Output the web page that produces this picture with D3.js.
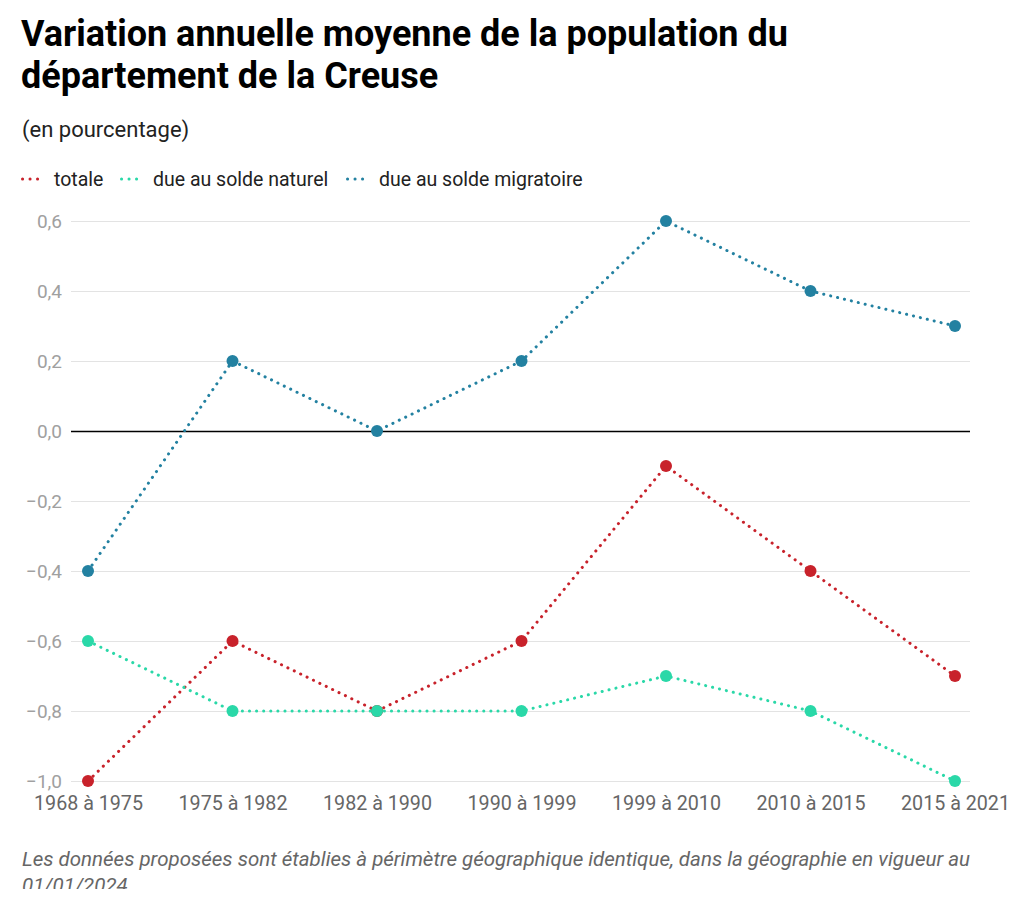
<!DOCTYPE html>
<html>
<head>
<meta charset="utf-8">
<script src="https://cdn.jsdelivr.net/npm/d3@7"></script>
<style>
  body { margin: 0; background: #fff; font-family: Roboto, "Noto Sans", sans-serif; }
</style>
</head>
<body>
<div id="chart"></div>
<script>
// periods and series (en %)
let periods = ["1968 à 1975", "1975 à 1982", "1982 à 1990", "1990 à 1999", "1999 à 2010", "2010 à 2015", "2015 à 2021"];
let totale = [-1.0, -0.6, -0.8, -0.6, -0.1, -0.4, -0.7];
let naturel = [-0.6, -0.8, -0.8, -0.8, -0.7, -0.8, -1.0];
let migratoire = [-0.4, 0.2, 0.0, 0.2, 0.6, 0.4, 0.3];
let yTicks = [0.6, 0.4, 0.2, 0.0, -0.2, -0.4, -0.6, -0.8, -1.0];

let seriesNames = ["totale", "due au solde naturel", "due au solde migratoire"];
let seriesColors = ["#c8222b", "#2ad8a8", "#2381a1"];
let series = [totale, naturel, migratoire];

let w = 1024;
let h = 909;

let svg = d3.select("#chart")
    .append("svg")
    .attr("width", w)
    .attr("height", h);

// title
svg.append("text")
    .attr("font-weight", "bold")
    .attr("font-size", "36px")
    .attr("fill", "#000")
    .selectAll("tspan")
    .data(["Variation annuelle moyenne de la population du", "département de la Creuse"])
    .enter()
    .append("tspan")
    .attr("x", 21)
    .attr("y", function (d, i) { return 46 + i * 42; })
    .text(function (d) { return d; });

svg.append("text")
    .attr("x", 22)
    .attr("y", 137)
    .attr("font-size", "22px")
    .attr("fill", "#222")
    .text("(en pourcentage)");

// legend
let legendX = [21, 120, 346];
let legend = svg.selectAll(".legend")
    .data(seriesNames)
    .enter()
    .append("g")
    .attr("class", "legend")
    .attr("transform", function (d, i) { return "translate(" + legendX[i] + ",179)"; });

legend.append("line")
    .attr("x1", 1.5)
    .attr("x2", 24)
    .attr("y1", 0)
    .attr("y2", 0)
    .attr("stroke", function (d, i) { return seriesColors[i]; })
    .attr("stroke-width", 3)
    .attr("stroke-linecap", "round")
    .attr("stroke-dasharray", "0.1 7.4");

legend.append("text")
    .attr("x", 33)
    .attr("y", 6.5)
    .attr("font-size", "19.5px")
    .attr("fill", "#222")
    .text(function (d) { return d; });

// scales
let x = d3.scalePoint()
    .domain(periods)
    .range([88, 955]);

let y = d3.scaleLinear()
    .domain([-1.0, 0.6])
    .range([781, 221]);

let fmt = function (d) {
    return d3.format(".1f")(d).replace(".", ",").replace("-", "\u2212");
};

// y grid + labels
let yAxis = d3.axisLeft(y)
    .tickValues(yTicks)
    .tickSize(-(970 - 71))
    .tickFormat(fmt);

let gy = svg.append("g")
    .attr("transform", "translate(71,0)")
    .call(yAxis);

gy.select(".domain").remove();
gy.selectAll(".tick line")
    .attr("stroke", function (d) { return d === 0 ? "#000" : "#e3e3e3"; })
    .attr("stroke-width", function (d) { return d === 0 ? 1.3 : 1; });
gy.selectAll(".tick text")
    .attr("x", -9)
    .attr("font-family", "Roboto, sans-serif")
    .attr("font-size", "19px")
    .attr("fill", "#a0a0a0");

// x axis labels
let xAxis = d3.axisBottom(x)
    .tickSize(0)
    .tickPadding(0);

let gx = svg.append("g")
    .attr("transform", "translate(0,810)")
    .call(xAxis);

gx.select(".domain").remove();
gx.selectAll(".tick text")
    .attr("y", 0)
    .attr("dy", 0)
    .attr("font-family", "Roboto, sans-serif")
    .attr("font-size", "19.7px")
    .attr("fill", "#666");

// lines and dots
let line = d3.line()
    .x(function (d, i) { return x(periods[i]); })
    .y(function (d) { return y(d); });

let groups = svg.selectAll(".series")
    .data(series)
    .enter()
    .append("g")
    .attr("class", "series");

groups.append("path")
    .attr("d", function (d) { return line(d); })
    .attr("fill", "none")
    .attr("stroke", function (d, i) { return seriesColors[i]; })
    .attr("stroke-width", 3)
    .attr("stroke-linecap", "round")
    .attr("stroke-dasharray", "0.1 7");

groups.each(function (s, si) {
    d3.select(this).selectAll("circle")
        .data(s)
        .enter()
        .append("circle")
        .attr("cx", function (d, i) { return x(periods[i]); })
        .attr("cy", function (d) { return y(d); })
        .attr("r", 6)
        .attr("fill", seriesColors[si]);
});

// note (bottom cut as in the source)
svg.append("clipPath")
    .attr("id", "noteClip")
    .append("rect")
    .attr("x", 0)
    .attr("y", 830)
    .attr("width", w)
    .attr("height", 59);

svg.append("text")
    .attr("clip-path", "url(#noteClip)")
    .attr("font-style", "italic")
    .attr("font-size", "20.5px")
    .attr("fill", "#666")
    .selectAll("tspan")
    .data(["Les données proposées sont établies à périmètre géographique identique, dans la géographie en vigueur au", "01/01/2024."])
    .enter()
    .append("tspan")
    .attr("x", 22)
    .attr("y", function (d, i) { return 866 + i * 26; })
    .text(function (d) { return d; });
</script>
</body>
</html>
